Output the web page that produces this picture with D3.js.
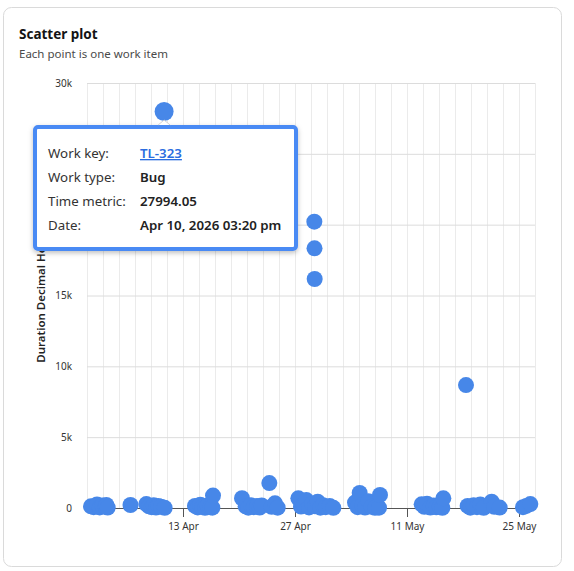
<!DOCTYPE html>
<html>
<head>
<meta charset="utf-8">
<script src="https://cdn.jsdelivr.net/npm/d3@7"></script>
<style>
  html, body { margin: 0; padding: 0; background: #fff; }
  svg { display: block; font-family: "Noto Sans", "Open Sans", sans-serif; }
</style>
</head>
<body>
<svg id="chart" width="574" height="571"></svg>
<script>
// ---- data ----
const pointDates = [
  "2026-04-01 12:00","2026-04-01 20:00","2026-04-02 06:00","2026-04-02 14:00","2026-04-02 22:00",
  "2026-04-03 08:00","2026-04-03 10:00","2026-04-03 14:00",
  "2026-04-06 10:30",
  "2026-04-08 10:00","2026-04-08 18:00","2026-04-09 02:00","2026-04-09 08:00","2026-04-09 15:00",
  "2026-04-09 22:00","2026-04-10 06:00","2026-04-10 17:00",
  "2026-04-14 12:00","2026-04-14 20:00","2026-04-15 04:00","2026-04-15 10:00","2026-04-15 18:00",
  "2026-04-16 02:00","2026-04-16 10:00","2026-04-16 16:00","2026-04-16 18:00",
  "2026-04-20 09:00","2026-04-20 20:00","2026-04-21 04:00","2026-04-21 12:00","2026-04-21 20:00",
  "2026-04-22 06:00","2026-04-22 14:00","2026-04-22 20:00","2026-04-23 19:00","2026-04-24 02:00",
  "2026-04-24 12:00","2026-04-24 20:00",
  "2026-04-27 10:00","2026-04-27 18:00","2026-04-28 02:00","2026-04-28 10:00","2026-04-28 18:00",
  "2026-04-29 04:00","2026-04-29 10:00","2026-04-29 10:30","2026-04-29 11:00","2026-04-29 12:00",
  "2026-04-29 20:00","2026-04-30 04:00","2026-04-30 12:00","2026-04-30 20:00","2026-05-01 08:00",
  "2026-05-01 19:00",
  "2026-05-04 12:00","2026-05-04 20:00","2026-05-05 02:00","2026-05-05 10:00","2026-05-05 18:00",
  "2026-05-06 04:00","2026-05-06 14:00","2026-05-07 00:00","2026-05-07 12:00","2026-05-07 15:00",
  "2026-05-12 20:00","2026-05-13 04:00","2026-05-13 12:00","2026-05-13 22:00","2026-05-14 08:00",
  "2026-05-14 16:00","2026-05-15 02:00","2026-05-15 10:00","2026-05-15 13:00",
  "2026-05-18 09:00","2026-05-18 14:00","2026-05-18 22:00","2026-05-19 08:00","2026-05-19 18:00",
  "2026-05-20 04:00","2026-05-20 14:00","2026-05-21 14:00","2026-05-21 22:00","2026-05-22 14:00",
  "2026-05-25 12:00","2026-05-25 22:00","2026-05-26 10:00"
];
const pointValues = [
  120, 60, 250, 40, 180,
  90, 220, 30,
  210,
  280, 120, 60, 200, 30,
  150, 90, 10,
  150, 40, 230, 80, 10,
  170, 60, 20, 880,
  690, 120, 20, 200, 60,
  140, 30, 180, 1760, 90,
  330, 20,
  680, 100, 250, 560, 40,
  300, 20210, 18330, 16165, 120,
  440, 20, 200, 60, 150,
  10,
  380, 60, 1060, 200, 30,
  480, 90, 10, 20, 920,
  260, 80, 300, 30, 180,
  50, 120, 10, 680,
  8680, 150, 20, 200, 60,
  240, 10, 450, 80, 30,
  60, 150, 280
];
// hovered work item (tooltip)
const hoverKey = "TL-323";
const hoverType = "Bug";
const hoverDate = "2026-04-10 15:20";
const hoverValue = 27994.05;

const xDomain = ["2026-04-01 00:00", "2026-05-27 00:00"];
const xTickLabels = ["2026-04-13 00:00", "2026-04-27 00:00", "2026-05-11 00:00", "2026-05-25 00:00"];
const yTicks = [0, 5000, 10000, 15000, 20000, 25000, 30000];

const titleText = "Scatter plot";
const subtitleText = "Each point is one work item";
const yTitle = "Duration Decimal Hours";

// ---- drawing ----
const parse = d3.timeParse("%Y-%m-%d %H:%M");
const svg = d3.select("#chart");
const plot = { left: 87, right: 535, top: 83, bottom: 508 };
const blue = "#4787e8";

const x = d3.scaleTime().domain(xDomain.map(parse)).range([plot.left, plot.right]);
const y = d3.scaleLinear().domain([0, 30000]).range([plot.bottom, plot.top]);

// card
svg.append("rect").attr("x", 3.5).attr("y", 7.5).attr("width", 558).attr("height", 559)
  .attr("rx", 8).attr("fill", "#fff").attr("stroke", "#dadada");

svg.append("text").attr("x", 19).attr("y", 38.5).text(titleText)
  .attr("font-size", 13.5).attr("font-weight", 700).attr("fill", "#141414");
svg.append("text").attr("x", 19).attr("y", 58).text(subtitleText)
  .attr("font-size", 11.5).attr("fill", "#4a4a4a");

// vertical gridlines (every 2 days)
const vGrid = d3.timeDay.every(2).range(x.domain()[0], d3.timeDay.offset(x.domain()[1], 1));
svg.append("g").selectAll("line").data(vGrid).join("line")
  .attr("x1", d => Math.round(x(d)) + 0.5).attr("x2", d => Math.round(x(d)) + 0.5)
  .attr("y1", plot.top).attr("y2", plot.bottom)
  .attr("stroke", "#ebebeb");

// horizontal gridlines + y labels
const yAxis = d3.axisLeft(y).tickValues(yTicks).tickSize(-(plot.right - plot.left))
  .tickFormat(d => d === 0 ? "0" : d3.format("~s")(d));
const gy = svg.append("g").attr("transform", `translate(${plot.left},0)`).call(yAxis);
gy.select(".domain").remove();
gy.selectAll(".tick line").attr("stroke", "#dcdcdc");
gy.selectAll(".tick text").attr("x", -15).attr("font-size", 10)
  .attr("fill", "#333").attr("font-family", "Noto Sans, sans-serif");

// x axis
const xAxis = d3.axisBottom(x).tickValues(xTickLabels.map(parse))
  .tickFormat(d3.timeFormat("%-d %b")).tickSize(9).tickPadding(6);
const gx = svg.append("g").attr("transform", `translate(0,${plot.bottom})`).call(xAxis);
gx.select(".domain").attr("stroke", "#555").attr("d", `M${plot.left},0.5H${plot.right}`);
gx.selectAll(".tick line").attr("stroke", "#555");
gx.selectAll(".tick text").attr("font-size", 10).attr("fill", "#333")
  .attr("font-family", "Noto Sans, sans-serif");

// y title
svg.append("text").attr("transform", `translate(45,${(plot.top + plot.bottom) / 2}) rotate(-90)`)
  .attr("text-anchor", "middle").attr("font-size", 11.5).attr("font-weight", 600)
  .attr("fill", "#222").text(yTitle);

// points
const points = pointDates.map((d, i) => ({ date: parse(d), value: pointValues[i] }));
svg.append("g").selectAll("circle").data(points).join("circle")
  .attr("cx", d => x(d.date)).attr("cy", d => y(d.value)).attr("r", 8)
  .attr("fill", blue);

// hovered point
const hd = parse(hoverDate);
svg.append("circle").attr("cx", x(hd)).attr("cy", y(hoverValue)).attr("r", 9.5).attr("fill", blue);

// tooltip
const defs = svg.append("defs");
const f = defs.append("filter").attr("id", "sh").attr("x", "-10%").attr("y", "-10%")
  .attr("width", "120%").attr("height", "130%");
f.append("feDropShadow").attr("dx", 0).attr("dy", 2).attr("stdDeviation", 2.5)
  .attr("flood-color", "#000").attr("flood-opacity", 0.25);

const tx = 35, ty = 127, tw = 261, th = 122;
const tip = svg.append("g");
tip.append("rect").attr("x", tx).attr("y", ty).attr("width", tw).attr("height", th)
  .attr("rx", 3).attr("fill", "#fff").attr("stroke", "#4a8af4").attr("stroke-width", 4)
  .attr("filter", "url(#sh)");
const ax = x(hd);
tip.append("path").attr("d", `M${ax - 6},${ty - 2}L${ax},${ty - 7}L${ax + 6},${ty - 2}`)
  .attr("fill", "#fff").attr("stroke", "#c8c8c8").attr("stroke-width", 0.8);

const rows = [
  ["Work key:", hoverKey, true],
  ["Work type:", hoverType, false],
  ["Time metric:", d3.format(".2f")(hoverValue), false],
  ["Date:", d3.timeFormat("%b %d, %Y %I:%M %p")(hd).replace("PM", "pm").replace("AM", "am"), false]
];
rows.forEach((r, i) => {
  const by = 158 + i * 24;
  tip.append("text").attr("x", 48).attr("y", by).attr("font-size", 13.3)
    .attr("fill", "#333").text(r[0]);
  tip.append("text").attr("x", 140).attr("y", by).attr("font-size", 13.3)
    .attr("font-weight", 600).attr("fill", r[2] ? "#2b6de0" : "#222")
    .attr("text-decoration", r[2] ? "underline" : null).text(r[1]);
});
</script>
</body>
</html>
